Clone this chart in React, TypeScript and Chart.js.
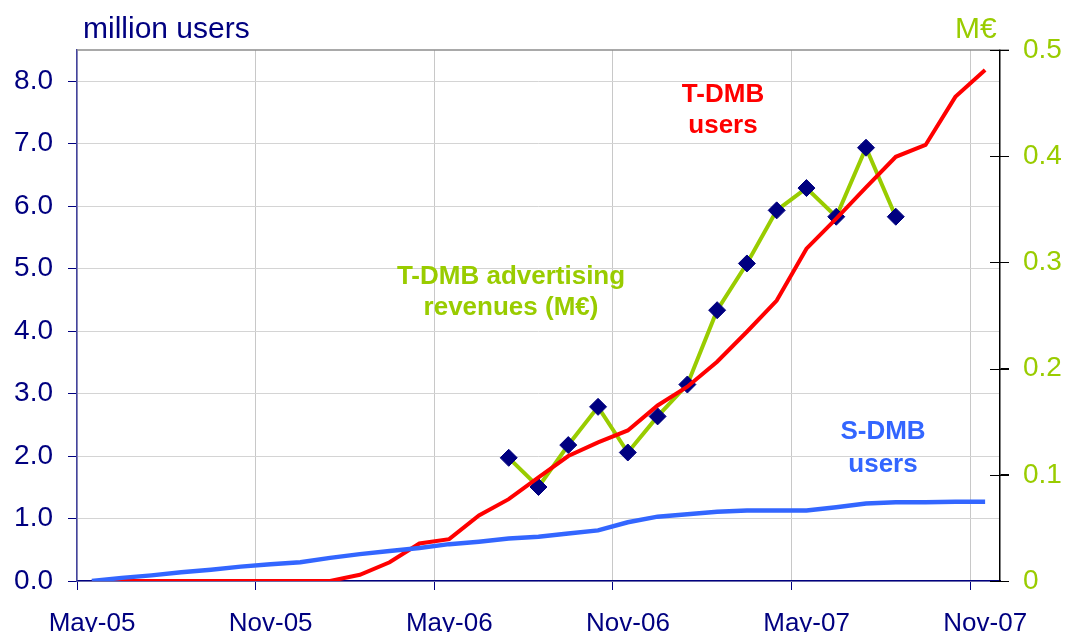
import React, { useEffect, useRef } from 'react';
import { Chart, registerables } from 'chart.js';

Chart.register(...registerables);

// ---- data ----
const monthTickLabels = ['May-05', 'Nov-05', 'May-06', 'Nov-06', 'May-07', 'Nov-07'];
const monthTickIndex = [0, 6, 12, 18, 24, 30];
const leftTickValues = [0, 1, 2, 3, 4, 5, 6, 7, 8];
const rightTickValues = [0, 0.1, 0.2, 0.3, 0.4, 0.5];

// monthly values, index 0 = May-05
const tdmbUsers = [0, 0, 0, 0, 0, 0, 0, 0, 0, 0.1, 0.3, 0.6, 0.67, 1.05, 1.31, 1.66, 2.0, 2.22, 2.41, 2.81, 3.11, 3.51, 3.99, 4.49, 5.32, 5.8, 6.3, 6.79, 6.98, 7.75, 8.18];
const sdmbUsers = [0, 0.05, 0.09, 0.14, 0.18, 0.23, 0.27, 0.3, 0.37, 0.43, 0.48, 0.53, 0.59, 0.63, 0.68, 0.71, 0.76, 0.81, 0.94, 1.03, 1.07, 1.11, 1.13, 1.13, 1.13, 1.18, 1.24, 1.26, 1.26, 1.27, 1.27];
const revenueStartMonth = 14; // Jul-06
const adRevenues = [0.116, 0.0885, 0.128, 0.164, 0.121, 0.155, 0.185, 0.255, 0.299, 0.349, 0.37, 0.343, 0.408, 0.343];

const NAVY = '#000080';
const RED = '#ff0000';
const BLUE = '#3366ff';
const GREEN = '#99cc00';
const FONT = '"Liberation Sans", Arial, sans-serif';

const annotationPlugin = {
  id: 'annotations',
  afterDraw(chart: any) {
    const ctx = chart.ctx;
    const { left, right, top } = chart.chartArea;
    const y1 = chart.scales.y1;
    ctx.save();
    // top border
    ctx.strokeStyle = '#8c8c8c';
    ctx.lineWidth = 1.5;
    ctx.beginPath();
    ctx.moveTo(left, top);
    ctx.lineTo(right + 9, top);
    ctx.stroke();
    // inward part of right-axis ticks
    ctx.strokeStyle = '#000000';
    ctx.lineWidth = 1;
    rightTickValues.forEach((v) => {
      const py = Math.round(y1.getPixelForValue(v)) + 0.5;
      ctx.beginPath();
      ctx.moveTo(right - 10, py);
      ctx.lineTo(right + 9, py);
      ctx.stroke();
    });
    // texts
    ctx.textBaseline = 'alphabetic';
    ctx.textAlign = 'left';
    ctx.fillStyle = NAVY;
    ctx.font = `30px ${FONT}`;
    ctx.fillText('million users', 83, 38);
    ctx.fillStyle = GREEN;
    ctx.font = `30px ${FONT}`;
    ctx.fillText('M€', 955, 38);

    ctx.textAlign = 'center';
    ctx.font = `bold 26px ${FONT}`;
    ctx.fillStyle = RED;
    ctx.fillText('T-DMB', 723, 102);
    ctx.fillText('users', 723, 133);
    ctx.fillStyle = GREEN;
    ctx.fillText('T-DMB advertising', 511, 284);
    ctx.fillText('revenues (M€)', 511, 315);
    ctx.fillStyle = BLUE;
    ctx.fillText('S-DMB', 883, 439);
    ctx.fillText('users', 883, 472);
    ctx.restore();
  },
};

export default function App() {
  const canvasRef = useRef<HTMLCanvasElement | null>(null);

  useEffect(() => {
    if (!canvasRef.current) return;
    const toPoints = (arr: number[], start: number) => arr.map((y, i) => ({ x: start + i + 0.5, y }));
    const chart = new Chart(canvasRef.current, {
      type: 'line',
      data: {
        datasets: [
          {
            label: 'S-DMB users',
            data: toPoints(sdmbUsers, 0),
            borderColor: BLUE,
            borderWidth: 4.5,
            pointRadius: 0,
            yAxisID: 'y',
            tension: 0,
          },
          {
            label: 'T-DMB users',
            data: toPoints(tdmbUsers, 0),
            borderColor: RED,
            borderWidth: 4,
            pointRadius: 0,
            yAxisID: 'y',
            tension: 0,
          },
          {
            label: 'T-DMB advertising revenues (M€)',
            data: toPoints(adRevenues, revenueStartMonth),
            borderColor: GREEN,
            borderWidth: 4,
            pointStyle: 'rectRot',
            pointRadius: 8.5,
            pointBackgroundColor: NAVY,
            pointBorderColor: NAVY,
            pointBorderWidth: 1,
            yAxisID: 'y1',
            tension: 0,
          },
        ],
      },
      options: {
        animation: false,
        responsive: false,
        devicePixelRatio: 1,
        layout: { padding: { top: 50, left: 0, right: 0, bottom: 0 } },
        plugins: { legend: { display: false }, tooltip: { enabled: false } },
        scales: {
          x: {
            type: 'linear',
            min: 0,
            max: 31,
            afterBuildTicks: (scale: any) => {
              scale.ticks = monthTickIndex.map((v) => ({ value: v }));
            },
            afterFit: (scale: any) => {
              scale.height = 51;
            },
            ticks: {
              autoSkip: false,
              maxRotation: 0,
              labelOffset: 15,
              padding: 18,
              color: NAVY,
              font: { family: FONT, size: 26 },
              callback: (v: any) => {
                const i = monthTickIndex.indexOf(Number(v));
                return i >= 0 ? monthTickLabels[i] : '';
              },
            },
            grid: { color: '#c8c8c8', lineWidth: 1, tickColor: NAVY, tickLength: 9 },
            border: { color: NAVY, width: 1.5 },
          },
          y: {
            position: 'left',
            min: 0,
            max: 8.5,
            afterBuildTicks: (scale: any) => {
              scale.ticks = leftTickValues.map((v) => ({ value: v }));
            },
            afterFit: (scale: any) => {
              scale.width = 77;
            },
            ticks: {
              padding: 15,
              color: NAVY,
              font: { family: FONT, size: 28 },
              callback: (v: any) => Number(v).toFixed(1),
            },
            grid: { color: '#d4d4d4', lineWidth: 1, tickColor: NAVY, tickLength: 9 },
            border: { color: '#4444a0', width: 1.5 },
          },
          y1: {
            position: 'right',
            min: 0,
            max: 0.5,
            afterBuildTicks: (scale: any) => {
              scale.ticks = rightTickValues.map((v) => ({ value: v }));
            },
            afterFit: (scale: any) => {
              scale.width = 66;
            },
            ticks: {
              padding: 14,
              color: GREEN,
              font: { family: FONT, size: 28 },
              callback: (v: any) => (Number(v) === 0 ? '0' : Number(v).toFixed(1)),
            },
            grid: { drawOnChartArea: false, tickColor: '#000000', tickLength: 9 },
            border: { color: '#000000', width: 1.5 },
          },
        },
      },
      plugins: [annotationPlugin],
    });
    return () => chart.destroy();
  }, []);

  return (
    <div style={{ position: 'fixed', left: 0, top: 0, width: 1066, height: 632, background: '#ffffff' }}>
      <canvas ref={canvasRef} width={1066} height={632} style={{ display: 'block' }} />
    </div>
  );
}
